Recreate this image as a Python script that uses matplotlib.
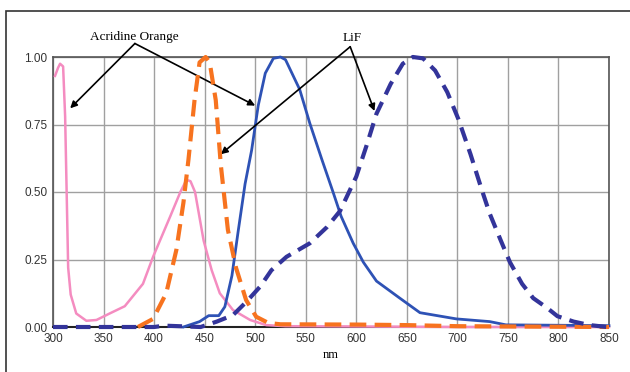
import matplotlib
matplotlib.use('Agg')
import matplotlib.pyplot as plt
from matplotlib.patches import Rectangle

# Acridine Orange, absorption (pink solid)
ao_abs_x = [302, 305, 307, 310, 312, 315, 317.5, 323, 333, 343, 356, 371, 389, 399, 416, 426, 432,
            436, 440.5, 449, 457, 465, 478, 495, 511, 530, 600, 700, 850]
ao_abs_y = [0.93, 0.96, 0.975, 0.965, 0.78, 0.22, 0.12, 0.05, 0.023, 0.026, 0.05, 0.077, 0.16, 0.26,
            0.41, 0.50, 0.545, 0.54, 0.50, 0.32, 0.21, 0.125, 0.063, 0.026, 0.007, 0.003, 0.002, 0.0, 0.0]

# Acridine Orange, emission (orange dashed)
ao_em_x = [384, 399, 412, 422, 429, 434, 440, 445, 451, 455, 461, 466, 473, 481, 491, 501,
           513, 525, 600, 650, 700, 850]
ao_em_y = [0.0, 0.03, 0.125, 0.285, 0.46, 0.62, 0.84, 0.98, 1.0, 0.98, 0.84, 0.6, 0.36,
           0.22, 0.1, 0.038, 0.015, 0.01, 0.009, 0.007, 0.003, 0.0]

# LiF, absorption (blue solid)
lif_abs_x = [429, 445, 454, 464, 470, 477, 483, 490, 496.5, 503, 510, 518, 525, 530, 544, 554, 566,
             577, 585, 597, 607, 620, 643, 663, 699, 732, 748, 850]
lif_abs_y = [0.0, 0.02, 0.042, 0.042, 0.075, 0.19, 0.35, 0.53, 0.655, 0.82, 0.94, 0.995, 1.0, 0.99,
             0.88, 0.755, 0.62, 0.50, 0.41, 0.31, 0.24, 0.17, 0.107, 0.053, 0.03, 0.02, 0.008, 0.005]

# LiF, emission (navy dashed)
lif_em_x = [300, 400, 410, 446, 462, 478, 491.5, 505, 516, 531, 554, 571, 584, 600, 610, 620, 634,
            646, 656, 666, 678, 690, 701, 713, 724, 732, 743, 752, 764, 775, 789, 799, 815, 831, 848]
lif_em_y = [0.0, 0.0, 0.005, 0.0, 0.02, 0.044, 0.094, 0.15, 0.21, 0.26, 0.31, 0.37, 0.43, 0.557,
            0.67, 0.79, 0.9, 0.975, 1.0, 0.995, 0.95, 0.87, 0.77, 0.64, 0.51, 0.42, 0.32, 0.24, 0.16,
            0.107, 0.07, 0.04, 0.02, 0.007, 0.0]

x_ticks = [300, 350, 400, 450, 500, 550, 600, 650, 700, 750, 800, 850]
y_ticks = [0.0, 0.25, 0.5, 0.75, 1.0]

fig = plt.figure(figsize=(6.3, 3.72), dpi=100)
ax = fig.add_axes([53 / 630, 1 - 327 / 372, 556 / 630, 270 / 372])

# outer frame of the original figure
fig.patches.append(Rectangle((6 / 630, -0.1), 1.2, 1.1 - 11 / 372, transform=fig.transFigure,
                             fill=False, edgecolor='#333333', lw=1.2))

ax.plot(ao_abs_x, ao_abs_y, color='#F48CC0', lw=1.8, clip_on=False, zorder=3)
ax.plot(ao_em_x, ao_em_y, color='#F7731F', lw=3, dashes=(4, 2), clip_on=False, zorder=4)
ax.plot(lif_abs_x, lif_abs_y, color='#2E52B5', lw=2, clip_on=False, zorder=3)
ax.plot(lif_em_x, lif_em_y, color='#33349A', lw=3, dashes=(3.5, 2), clip_on=False, zorder=4)

ax.set_xlim(300, 850)
ax.set_ylim(0, 1)
ax.set_xticks(x_ticks)
ax.set_yticks(y_ticks)
ax.set_yticklabels(['%.2f' % v for v in y_ticks])
ax.grid(True, color='#A0A0A0', lw=1)
ax.set_axisbelow(True)
ax.tick_params(length=0, labelsize=8.5, labelcolor='#333333', pad=4)
for s in ax.spines.values():
    s.set_color('#555555')
    s.set_linewidth(1.2)
ax.spines['bottom'].set_color('#222222')
ax.spines['bottom'].set_linewidth(1.5)
for lab in ax.get_xticklabels() + ax.get_yticklabels():
    lab.set_family('Liberation Sans')

ax.set_xlabel('nm', family='Liberation Serif', fontsize=9, labelpad=3)

ap = dict(arrowstyle='-|>', color='black', lw=1.2, mutation_scale=10, shrinkA=0, shrinkB=0)
ax.text(380, 1.075, 'Acridine Orange', family='Liberation Serif', fontsize=9.5,
        ha='center', va='center', clip_on=False)
for tgt in [(317, 0.81), (500, 0.82)]:
    ax.annotate('', xy=tgt, xytext=(381, 1.05), arrowprops=ap, annotation_clip=False)

ax.text(596, 1.07, 'LiF', family='Liberation Serif', fontsize=9.5,
        ha='center', va='center', clip_on=False)
for tgt in [(466, 0.64), (618, 0.80)]:
    ax.annotate('', xy=tgt, xytext=(594, 1.038), arrowprops=ap, annotation_clip=False)

fig.savefig('out.png', dpi=100)
